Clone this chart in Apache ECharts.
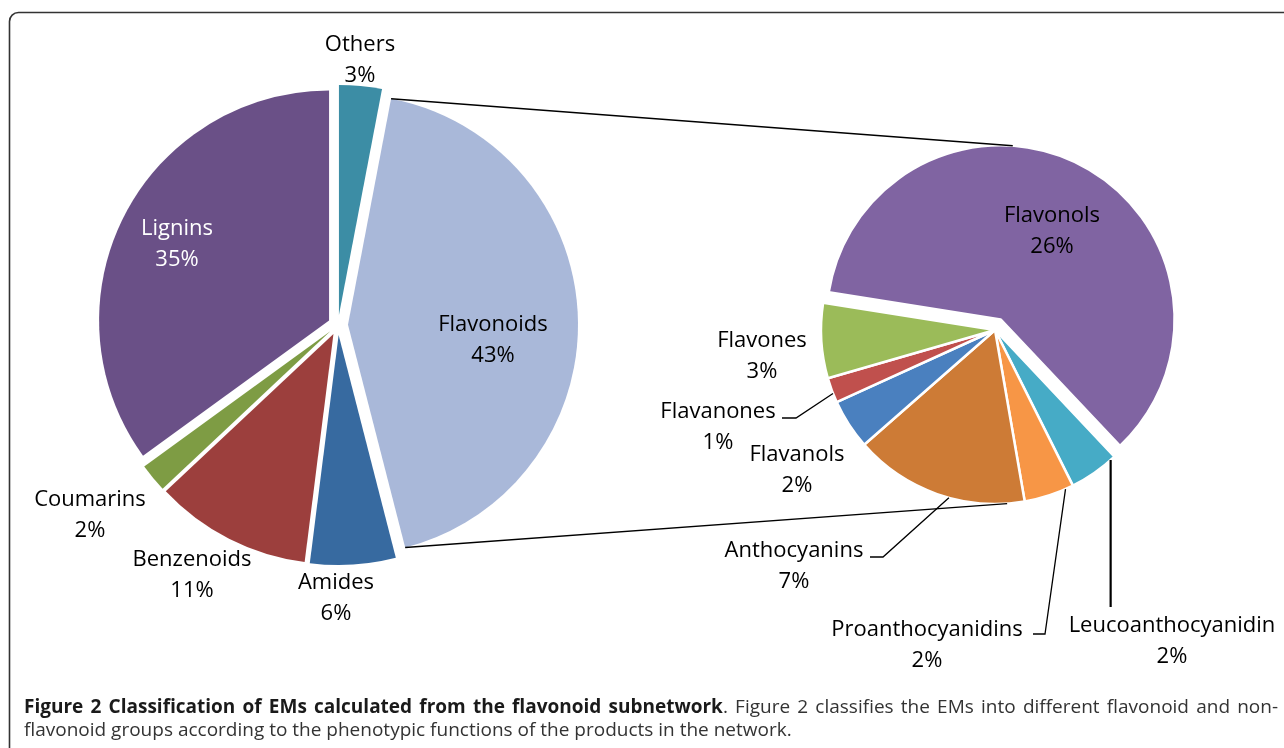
<!DOCTYPE html>
<html>
<head>
<meta charset="utf-8">
<title>Classification of EMs calculated from the flavonoid subnetwork</title>
<script src="https://cdn.jsdelivr.net/npm/echarts@6/dist/echarts.min.js"></script>
<style>
  html, body { margin: 0; padding: 0; background: #ffffff; }
  #main { width: 1284px; height: 748px; }
</style>
</head>
<body>
<div id="main"></div>
<script>
// Share of EMs (%) by product class
const mainClasses = ['Others', 'Flavonoids', 'Amides', 'Benzenoids', 'Coumarins', 'Lignins'];
const mainShares = [3, 43, 6, 11, 2, 35];

// Breakdown of the flavonoid share (% of all EMs)
const flavonoidClasses = ['Flavonols', 'Leucoanthocyanidin', 'Proanthocyanidins', 'Anthocyanins', 'Flavanols', 'Flavanones', 'Flavones'];
const flavonoidShares = [26, 2, 2, 7, 2, 1, 3];

// Palette
const mainColors = ['#3C8DA5', '#A9B8D9', '#376AA0', '#9C3F3D', '#7E9C44', '#6A5087'];
const flavonoidColors = ['#8064A2', '#46ABC6', '#F79646', '#CD7B36', '#4A80BF', '#C0504D', '#9BBB59'];

const FONT = '"Open Sans", "Noto Sans", sans-serif';

// Pie geometry
const mainCenter = [338, 325], mainRadius = 230, mainExplode = 10;
const subCenter = [995, 330], subRadius = 174, subExplode = 12, subStart = 171;

// Label anchor points (centre of the two-line label)
const labelSpots = {
  Others: [360, 60], Flavonoids: [493, 340], Amides: [336, 598], Benzenoids: [192, 575],
  Coumarins: [90, 515], Lignins: [177, 244],
  Flavonols: [1052, 231], Leucoanthocyanidin: [1172, 641], Proanthocyanidins: [927, 645],
  Anthocyanins: [794, 566], Flavanols: [797, 470], Flavanones: [718, 427], Flavones: [762, 356]
};
// Leader lines: where they leave the slice (fraction of its arc), elbow and end next to the label
const leaders = {
  Flavanones: { along: 0.37, elbow: [796, 418], end: [782, 418] },
  Anthocyanins: { along: 0.43, elbow: [883, 557], end: [870, 557] },
  Proanthocyanidins: { along: 0.16, elbow: [1045, 634], end: [1033, 634] },
  Leucoanthocyanidin: { along: 0.1, downTo: 607, width: 2.2 }
};
const whiteLabels = ['Lignins'];

// Point on a circle, angle measured clockwise from 12 o'clock
function arcPoint(c, r, deg) {
  const a = deg * Math.PI / 180;
  return [c[0] + r * Math.sin(a), c[1] - r * Math.cos(a)];
}
function sumTo(arr, n) { let s = 0; for (let i = 0; i < n; i++) s += arr[i]; return s; }

function makeLabelLayout(names, values, center, radius, startAngle) {
  const total = sumTo(values, values.length);
  return function (p) {
    const name = names[p.dataIndex];
    const spot = labelSpots[name];
    const out = { x: spot[0], y: spot[1], align: 'center', verticalAlign: 'middle' };
    const lead = leaders[name];
    if (lead && p.labelLinePoints) {
      const i = p.dataIndex;
      const deg = (90 - startAngle) + (sumTo(values, i) + lead.along * values[i]) / total * 360;
      const a = arcPoint(center, radius, deg);
      out.labelLinePoints = lead.downTo != null
        ? [a, [a[0], lead.downTo], [a[0], lead.downTo]]
        : [a, lead.elbow, lead.end];
    }
    return out;
  };
}

// Visible, exploded slices (no labels)
function sliceData(names, values, colors, isExploded) {
  return names.map(function (n, i) {
    return { name: n, value: values[i], selected: isExploded(n), itemStyle: { color: colors[i] } };
  });
}

// Transparent copy of a pie that carries the labels and leader lines
function labelData(names, values) {
  return names.map(function (n, i) {
    const lead = leaders[n];
    return {
      name: n,
      value: values[i],
      itemStyle: { color: 'rgba(0,0,0,0)', borderWidth: 0 },
      label: { color: whiteLabels.indexOf(n) >= 0 ? '#ffffff' : '#000000' },
      labelLine: {
        show: !!lead,
        lineStyle: { color: '#000000', opacity: 1, width: lead && lead.width ? lead.width : 1.3 }
      }
    };
  });
}

// Connector lines between the flavonoid slice and the secondary pie
const mainTotal = sumTo(mainShares, mainShares.length);
const fIdx = mainClasses.indexOf('Flavonoids');
const fStart = sumTo(mainShares, fIdx) / mainTotal * 360;
const fEnd = sumTo(mainShares, fIdx + 1) / mainTotal * 360;
const fCenter = arcPoint(mainCenter, mainExplode, (fStart + fEnd) / 2);
const fTop = arcPoint(fCenter, mainRadius, fStart);
const fBottom = arcPoint(fCenter, mainRadius, fEnd);

const subTotal = sumTo(flavonoidShares, flavonoidShares.length);
const flavonolMid = (90 - subStart) + flavonoidShares[0] / subTotal * 180;
const flavonolCenter = arcPoint(subCenter, subExplode, flavonolMid);
const subTop = arcPoint(flavonolCenter, subRadius, 4);
const subBottom = arcPoint(subCenter, subRadius, 176);

// Caption: first line justified by widening the word gaps
const captionBold = 'Figure 2 Classification of EMs calculated from the flavonoid subnetwork';
const captionLine1Rest = 'Figure 2 classifies the EMs into different flavonoid and non-';
const captionLine2 = 'flavonoid groups according to the phenotypic functions of the products in the network.';
const captionLine1 =
  captionBold.split(' ').map(function (w) { return '{b|' + w + '}'; }).join('{sp| }') +
  '{n|.}{sp| }' +
  captionLine1Rest.split(' ').map(function (w) { return '{n|' + w + '}'; }).join('{sp| }');

const CAP_SIZE = 19;
const chart = echarts.init(document.getElementById('main'), null, { renderer: 'canvas' });

const labelBase = {
  show: true,
  position: 'outside',
  formatter: '{b}\n{c}%',
  color: '#000000',
  opacity: 1,
  fontFamily: FONT,
  fontSize: 22,
  lineHeight: 31
};

function slicesSeries(center, radius, start, mode, offset, border, data) {
  return {
    type: 'pie', center: center, radius: radius, startAngle: start, clockwise: true,
    selectedMode: mode, selectedOffset: offset, silent: true, z: 2,
    emphasis: { disabled: true, scale: false },
    itemStyle: { borderWidth: border, borderColor: '#ffffff' },
    select: { itemStyle: { borderWidth: border, borderColor: '#ffffff' } },
    label: { show: false }, labelLine: { show: false },
    data: data
  };
}
function labelSeries(center, radius, start, names, values) {
  return {
    type: 'pie', center: center, radius: radius, startAngle: start, clockwise: true,
    selectedMode: false, silent: true, z: 3, avoidLabelOverlap: false,
    emphasis: { disabled: true, scale: false },
    label: labelBase, labelLine: { show: false },
    labelLayout: makeLabelLayout(names, values, center, radius, start),
    data: labelData(names, values)
  };
}

chart.setOption({
  animation: false,
  backgroundColor: '#ffffff',
  series: [
    slicesSeries(mainCenter, mainRadius, 90, 'multiple', mainExplode, 0,
      sliceData(mainClasses, mainShares, mainColors, function () { return true; })),
    slicesSeries(subCenter, subRadius, subStart, 'single', subExplode, 2.5,
      sliceData(flavonoidClasses, flavonoidShares, flavonoidColors, function (n) { return n === 'Flavonols'; })),
    labelSeries(mainCenter, mainRadius, 90, mainClasses, mainShares),
    labelSeries(subCenter, subRadius, subStart, flavonoidClasses, flavonoidShares)
  ],
  graphic: [
    {
      id: 'frame', type: 'rect', silent: true, z: 0,
      shape: { x: 9.5, y: 12.5, width: 1300, height: 760, r: 9 },
      style: { fill: 'none', stroke: '#333333', lineWidth: 1.6 }
    },
    {
      id: 'linkTop', type: 'line', silent: true, z: 20,
      shape: { x1: fTop[0], y1: fTop[1], x2: subTop[0], y2: subTop[1] },
      style: { stroke: '#000000', lineWidth: 1.4 }
    },
    {
      id: 'linkBottom', type: 'line', silent: true, z: 20,
      shape: { x1: fBottom[0], y1: fBottom[1], x2: subBottom[0], y2: subBottom[1] },
      style: { stroke: '#000000', lineWidth: 1.4 }
    },
    {
      id: 'caption1', type: 'text', silent: true, z: 20,
      x: 24, y: 708,
      style: {
        text: captionLine1,
        fill: '#333333', fontFamily: FONT, fontSize: CAP_SIZE, verticalAlign: 'middle', align: 'left',
        rich: {
          b: { fontWeight: 'bold', fill: '#1a1a1a', fontFamily: FONT, fontSize: CAP_SIZE },
          n: { fill: '#333333', fontFamily: FONT, fontSize: CAP_SIZE },
          sp: { width: 7.2, fontFamily: FONT, fontSize: CAP_SIZE }
        }
      }
    },
    {
      id: 'caption2', type: 'text', silent: true, z: 20,
      x: 24, y: 731,
      style: {
        text: captionLine2,
        fill: '#333333', fontFamily: FONT, fontSize: CAP_SIZE, verticalAlign: 'middle', align: 'left'
      }
    }
  ]
});
</script>
</body>
</html>
